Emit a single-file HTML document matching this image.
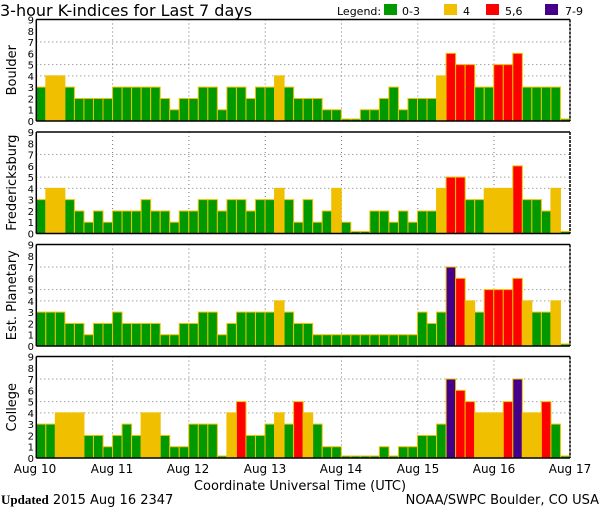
<!DOCTYPE html>
<html><head><meta charset="utf-8"><style>
body{margin:0;background:#fff;width:600px;height:510px;overflow:hidden}
svg{display:block}
text{font-family:"DejaVu Sans","Liberation Sans",sans-serif}
.g{fill:#009900}.y{fill:#f0c000}.r{fill:#ff0000}.p{fill:#440088}
.b rect{stroke:#f0c000;stroke-width:1;vector-effect:non-scaling-stroke}
.grid line{stroke:#777;stroke-width:1;stroke-dasharray:1,3}
.tk text{font-size:10px;text-anchor:end}
.fr line{stroke:#000;stroke-width:1.5}
</style></head><body>
<svg width="600" height="510" viewBox="0 0 600 510" xmlns="http://www.w3.org/2000/svg">
<defs>
<g id="bg">
<g class="grid">
<line x1="36.3" x2="570" y1="56.4" y2="56.4"/><line x1="36.3" x2="570" y1="45.1" y2="45.1"/><line x1="36.3" x2="570" y1="22.5" y2="22.5"/>
<line x1="112.6" x2="112.6" y1="0" y2="101.5"/><line x1="188.9" x2="188.9" y1="0" y2="101.5"/><line x1="265.2" x2="265.2" y1="0" y2="101.5"/><line x1="341.5" x2="341.5" y1="0" y2="101.5"/><line x1="417.8" x2="417.8" y1="0" y2="101.5"/><line x1="494" x2="494" y1="0" y2="101.5"/>
</g>
<g class="tk"><text x="34" y="105.5">0</text><text x="34" y="94.2">1</text><text x="34" y="82.9">2</text><text x="34" y="71.7">3</text><text x="34" y="60.4">4</text><text x="34" y="49.1">5</text><text x="34" y="37.8">6</text><text x="34" y="26.6">7</text><text x="34" y="15.3">8</text><text x="34" y="4">9</text></g>
</g>
<g id="fr" class="fr">
<line x1="36.3" x2="570" y1="0" y2="0"/><line x1="36.3" x2="570" y1="101.5" y2="101.5"/><line x1="36.3" x2="36.3" y1="0" y2="101.5"/><line x1="570" x2="570" y1="0" y2="101.5" stroke-dasharray="3,1"/>
</g>
</defs>
<text x="0" y="16" font-size="16">3-hour K-indices for Last 7 days</text>
<text x="337" y="15" font-size="11">Legend:</text>
<rect x="384" y="4" width="13" height="11" class="g"/><text x="402" y="15" font-size="11">0-3</text>
<rect x="444" y="4" width="13" height="11" class="y"/><text x="463" y="15" font-size="11">4</text>
<rect x="486" y="4" width="13" height="11" class="r"/><text x="505" y="15" font-size="11">5,6</text>
<rect x="545" y="4" width="13" height="11" class="p"/><text x="565" y="15" font-size="11">7-9</text>

<!-- Boulder -->
<g transform="translate(0,19.5)">
<use href="#bg"/>
<g class="b" transform="translate(36.3,101.5) scale(9.53,-11.278)">
<rect class="g" x="0" width="1" height="3"/><rect class="y" x="1" width="1" height="4"/><rect class="y" x="2" width="1" height="4"/><rect class="g" x="3" width="1" height="3"/><rect class="g" x="4" width="1" height="2"/><rect class="g" x="5" width="1" height="2"/><rect class="g" x="6" width="1" height="2"/><rect class="g" x="7" width="1" height="2"/>
<rect class="g" x="8" width="1" height="3"/><rect class="g" x="9" width="1" height="3"/><rect class="g" x="10" width="1" height="3"/><rect class="g" x="11" width="1" height="3"/><rect class="g" x="12" width="1" height="3"/><rect class="g" x="13" width="1" height="2"/><rect class="g" x="14" width="1" height="1"/><rect class="g" x="15" width="1" height="2"/>
<rect class="g" x="16" width="1" height="2"/><rect class="g" x="17" width="1" height="3"/><rect class="g" x="18" width="1" height="3"/><rect class="g" x="19" width="1" height="1"/><rect class="g" x="20" width="1" height="3"/><rect class="g" x="21" width="1" height="3"/><rect class="g" x="22" width="1" height="2"/><rect class="g" x="23" width="1" height="3"/>
<rect class="g" x="24" width="1" height="3"/><rect class="y" x="25" width="1" height="4"/><rect class="g" x="26" width="1" height="3"/><rect class="g" x="27" width="1" height="2"/><rect class="g" x="28" width="1" height="2"/><rect class="g" x="29" width="1" height="2"/><rect class="g" x="30" width="1" height="1"/><rect class="g" x="31" width="1" height="1"/>
<rect class="g" x="32" width="1" height="0.18"/><rect class="g" x="33" width="1" height="0.18"/><rect class="g" x="34" width="1" height="1"/><rect class="g" x="35" width="1" height="1"/><rect class="g" x="36" width="1" height="2"/><rect class="g" x="37" width="1" height="3"/><rect class="g" x="38" width="1" height="1"/><rect class="g" x="39" width="1" height="2"/>
<rect class="g" x="40" width="1" height="2"/><rect class="g" x="41" width="1" height="2"/><rect class="y" x="42" width="1" height="4"/><rect class="r" x="43" width="1" height="6"/><rect class="r" x="44" width="1" height="5"/><rect class="r" x="45" width="1" height="5"/><rect class="g" x="46" width="1" height="3"/><rect class="g" x="47" width="1" height="3"/>
<rect class="r" x="48" width="1" height="5"/><rect class="r" x="49" width="1" height="5"/><rect class="r" x="50" width="1" height="6"/><rect class="g" x="51" width="1" height="3"/><rect class="g" x="52" width="1" height="3"/><rect class="g" x="53" width="1" height="3"/><rect class="g" x="54" width="1" height="3"/><rect class="g" x="55" width="1" height="0.18"/>
</g>
<use href="#fr"/>
<text font-size="13" text-anchor="middle" transform="translate(16,50.7) rotate(-90)">Boulder</text>
</g>

<!-- Fredericksburg -->
<g transform="translate(0,132)">
<use href="#bg"/>
<g class="b" transform="translate(36.3,101.5) scale(9.53,-11.278)">
<rect class="g" x="0" width="1" height="3"/><rect class="y" x="1" width="1" height="4"/><rect class="y" x="2" width="1" height="4"/><rect class="g" x="3" width="1" height="3"/><rect class="g" x="4" width="1" height="2"/><rect class="g" x="5" width="1" height="1"/><rect class="g" x="6" width="1" height="2"/><rect class="g" x="7" width="1" height="1"/>
<rect class="g" x="8" width="1" height="2"/><rect class="g" x="9" width="1" height="2"/><rect class="g" x="10" width="1" height="2"/><rect class="g" x="11" width="1" height="3"/><rect class="g" x="12" width="1" height="2"/><rect class="g" x="13" width="1" height="2"/><rect class="g" x="14" width="1" height="1"/><rect class="g" x="15" width="1" height="2"/>
<rect class="g" x="16" width="1" height="2"/><rect class="g" x="17" width="1" height="3"/><rect class="g" x="18" width="1" height="3"/><rect class="g" x="19" width="1" height="2"/><rect class="g" x="20" width="1" height="3"/><rect class="g" x="21" width="1" height="3"/><rect class="g" x="22" width="1" height="2"/><rect class="g" x="23" width="1" height="3"/>
<rect class="g" x="24" width="1" height="3"/><rect class="y" x="25" width="1" height="4"/><rect class="g" x="26" width="1" height="3"/><rect class="g" x="27" width="1" height="1"/><rect class="g" x="28" width="1" height="3"/><rect class="g" x="29" width="1" height="1"/><rect class="g" x="30" width="1" height="2"/><rect class="y" x="31" width="1" height="4"/>
<rect class="g" x="32" width="1" height="1"/><rect class="g" x="33" width="1" height="0.18"/><rect class="g" x="34" width="1" height="0.18"/><rect class="g" x="35" width="1" height="2"/><rect class="g" x="36" width="1" height="2"/><rect class="g" x="37" width="1" height="1"/><rect class="g" x="38" width="1" height="2"/><rect class="g" x="39" width="1" height="1"/>
<rect class="g" x="40" width="1" height="2"/><rect class="g" x="41" width="1" height="2"/><rect class="y" x="42" width="1" height="4"/><rect class="r" x="43" width="1" height="5"/><rect class="r" x="44" width="1" height="5"/><rect class="g" x="45" width="1" height="3"/><rect class="g" x="46" width="1" height="3"/><rect class="y" x="47" width="1" height="4"/>
<rect class="y" x="48" width="1" height="4"/><rect class="y" x="49" width="1" height="4"/><rect class="r" x="50" width="1" height="6"/><rect class="g" x="51" width="1" height="3"/><rect class="g" x="52" width="1" height="3"/><rect class="g" x="53" width="1" height="2"/><rect class="y" x="54" width="1" height="4"/><rect class="g" x="55" width="1" height="0.18"/>
</g>
<use href="#fr"/>
<text font-size="13" text-anchor="middle" transform="translate(16,50.7) rotate(-90)">Fredericksburg</text>
</g>

<!-- Est. Planetary -->
<g transform="translate(0,244.5)">
<use href="#bg"/>
<g class="b" transform="translate(36.3,101.5) scale(9.53,-11.278)">
<rect class="g" x="0" width="1" height="3"/><rect class="g" x="1" width="1" height="3"/><rect class="g" x="2" width="1" height="3"/><rect class="g" x="3" width="1" height="2"/><rect class="g" x="4" width="1" height="2"/><rect class="g" x="5" width="1" height="1"/><rect class="g" x="6" width="1" height="2"/><rect class="g" x="7" width="1" height="2"/>
<rect class="g" x="8" width="1" height="3"/><rect class="g" x="9" width="1" height="2"/><rect class="g" x="10" width="1" height="2"/><rect class="g" x="11" width="1" height="2"/><rect class="g" x="12" width="1" height="2"/><rect class="g" x="13" width="1" height="1"/><rect class="g" x="14" width="1" height="1"/><rect class="g" x="15" width="1" height="2"/>
<rect class="g" x="16" width="1" height="2"/><rect class="g" x="17" width="1" height="3"/><rect class="g" x="18" width="1" height="3"/><rect class="g" x="19" width="1" height="1"/><rect class="g" x="20" width="1" height="2"/><rect class="g" x="21" width="1" height="3"/><rect class="g" x="22" width="1" height="3"/><rect class="g" x="23" width="1" height="3"/>
<rect class="g" x="24" width="1" height="3"/><rect class="y" x="25" width="1" height="4"/><rect class="g" x="26" width="1" height="3"/><rect class="g" x="27" width="1" height="2"/><rect class="g" x="28" width="1" height="2"/><rect class="g" x="29" width="1" height="1"/><rect class="g" x="30" width="1" height="1"/><rect class="g" x="31" width="1" height="1"/>
<rect class="g" x="32" width="1" height="1"/><rect class="g" x="33" width="1" height="1"/><rect class="g" x="34" width="1" height="1"/><rect class="g" x="35" width="1" height="1"/><rect class="g" x="36" width="1" height="1"/><rect class="g" x="37" width="1" height="1"/><rect class="g" x="38" width="1" height="1"/><rect class="g" x="39" width="1" height="1"/>
<rect class="g" x="40" width="1" height="3"/><rect class="g" x="41" width="1" height="2"/><rect class="g" x="42" width="1" height="3"/><rect class="p" x="43" width="1" height="7"/><rect class="r" x="44" width="1" height="6"/><rect class="y" x="45" width="1" height="4"/><rect class="g" x="46" width="1" height="3"/><rect class="r" x="47" width="1" height="5"/>
<rect class="r" x="48" width="1" height="5"/><rect class="r" x="49" width="1" height="5"/><rect class="r" x="50" width="1" height="6"/><rect class="y" x="51" width="1" height="4"/><rect class="g" x="52" width="1" height="3"/><rect class="g" x="53" width="1" height="3"/><rect class="y" x="54" width="1" height="4"/><rect class="g" x="55" width="1" height="0.18"/>
</g>
<use href="#fr"/>
<text font-size="13" text-anchor="middle" transform="translate(16,50.7) rotate(-90)">Est. Planetary</text>
</g>

<!-- College -->
<g transform="translate(0,356.5)">
<use href="#bg"/>
<g class="b" transform="translate(36.3,101.5) scale(9.53,-11.278)">
<rect class="g" x="0" width="1" height="3"/><rect class="g" x="1" width="1" height="3"/><rect class="y" x="2" width="1" height="4"/><rect class="y" x="3" width="1" height="4"/><rect class="y" x="4" width="1" height="4"/><rect class="g" x="5" width="1" height="2"/><rect class="g" x="6" width="1" height="2"/><rect class="g" x="7" width="1" height="1"/>
<rect class="g" x="8" width="1" height="2"/><rect class="g" x="9" width="1" height="3"/><rect class="g" x="10" width="1" height="2"/><rect class="y" x="11" width="1" height="4"/><rect class="y" x="12" width="1" height="4"/><rect class="g" x="13" width="1" height="2"/><rect class="g" x="14" width="1" height="1"/><rect class="g" x="15" width="1" height="1"/>
<rect class="g" x="16" width="1" height="3"/><rect class="g" x="17" width="1" height="3"/><rect class="g" x="18" width="1" height="3"/><rect class="g" x="19" width="1" height="0.18"/><rect class="y" x="20" width="1" height="4"/><rect class="r" x="21" width="1" height="5"/><rect class="g" x="22" width="1" height="2"/><rect class="g" x="23" width="1" height="2"/>
<rect class="g" x="24" width="1" height="3"/><rect class="y" x="25" width="1" height="4"/><rect class="g" x="26" width="1" height="3"/><rect class="r" x="27" width="1" height="5"/><rect class="y" x="28" width="1" height="4"/><rect class="g" x="29" width="1" height="3"/><rect class="g" x="30" width="1" height="1"/><rect class="g" x="31" width="1" height="1"/>
<rect class="g" x="32" width="1" height="0.18"/><rect class="g" x="33" width="1" height="0.18"/><rect class="g" x="34" width="1" height="0.18"/><rect class="g" x="35" width="1" height="0.18"/><rect class="g" x="36" width="1" height="1"/><rect class="g" x="37" width="1" height="0.18"/><rect class="g" x="38" width="1" height="1"/><rect class="g" x="39" width="1" height="1"/>
<rect class="g" x="40" width="1" height="2"/><rect class="g" x="41" width="1" height="2"/><rect class="g" x="42" width="1" height="3"/><rect class="p" x="43" width="1" height="7"/><rect class="r" x="44" width="1" height="6"/><rect class="r" x="45" width="1" height="5"/><rect class="y" x="46" width="1" height="4"/><rect class="y" x="47" width="1" height="4"/>
<rect class="y" x="48" width="1" height="4"/><rect class="r" x="49" width="1" height="5"/><rect class="p" x="50" width="1" height="7"/><rect class="y" x="51" width="1" height="4"/><rect class="y" x="52" width="1" height="4"/><rect class="r" x="53" width="1" height="5"/><rect class="g" x="54" width="1" height="3"/><rect class="g" x="55" width="1" height="0.18"/>
</g>
<use href="#fr"/>
<text font-size="13" text-anchor="middle" transform="translate(16,50.7) rotate(-90)">College</text>
</g>

<g font-size="12" text-anchor="middle">
<text x="35" y="473">Aug 10</text><text x="112" y="473">Aug 11</text><text x="188" y="473">Aug 12</text><text x="265" y="473">Aug 13</text><text x="341" y="473">Aug 14</text><text x="418" y="473">Aug 15</text><text x="494" y="473">Aug 16</text><text x="570" y="473">Aug 17</text>
<text x="300" y="490" font-size="13">Coordinate Universal Time (UTC)</text>
</g>
<text x="1" y="504" font-size="13"><tspan font-family="Liberation Serif,serif" font-weight="bold">Updated</tspan> 2015 Aug 16 2347</text>
<text x="599" y="504" font-size="13" text-anchor="end">NOAA/SWPC Boulder, CO USA</text>
</svg>
</body></html>
